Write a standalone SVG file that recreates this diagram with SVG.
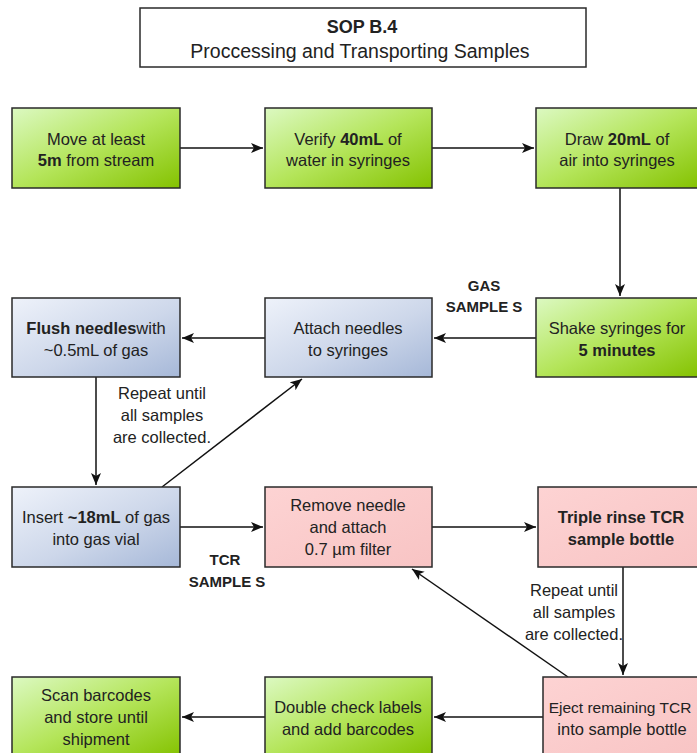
<svg xmlns="http://www.w3.org/2000/svg" width="697" height="753" viewBox="0 0 697 753">
<defs>
<linearGradient id="gGreen" x1="0" y1="0" x2="1" y2="1">
<stop offset="0" stop-color="#dcf9c2"/>
<stop offset="0.5" stop-color="#b4e55a"/>
<stop offset="1" stop-color="#84c200"/>
</linearGradient>
<linearGradient id="gBlue" x1="0" y1="0" x2="1" y2="1">
<stop offset="0" stop-color="#eef2fa"/>
<stop offset="0.55" stop-color="#cdd7ea"/>
<stop offset="1" stop-color="#a6b8d8"/>
</linearGradient>
<linearGradient id="gPink" x1="0" y1="0" x2="1" y2="1">
<stop offset="0" stop-color="#fdd3d3"/>
<stop offset="1" stop-color="#f8c4c4"/>
</linearGradient>
<marker id="arr" markerUnits="userSpaceOnUse" markerWidth="14" markerHeight="12" refX="12" refY="5" orient="auto">
<path d="M0,0 L12,5 L0,10 L3,5 Z" fill="#111"/>
</marker>
</defs>
<style>
text{font-family:"Liberation Sans",Arial,sans-serif;fill:#222;}
.t{font-size:16.5px;text-anchor:middle;}
.b{font-weight:bold;}
.lbl{font-size:15px;font-weight:bold;text-anchor:middle;fill:#222;}
.box{stroke:#2a2a2a;stroke-width:1.5;}
.green{fill:url(#gGreen);}
.blue{fill:url(#gBlue);}
.pink{fill:url(#gPink);}
.edge{stroke:#111;stroke-width:1.5;fill:none;marker-end:url(#arr);}
</style>
<rect width="697" height="753" fill="#ffffff"/>

<g id="title">
<rect x="140" y="8" width="446" height="59" fill="#ffffff" stroke="#2a2a2a" stroke-width="1.5"/>
<text x="362" y="33" font-size="18" font-weight="bold" text-anchor="middle">SOP B.4</text>
<text x="360" y="58" font-size="19.5" text-anchor="middle">Proccessing and Transporting Samples</text>
</g>

<g id="connectors">
<line class="edge" x1="180" y1="148" x2="263" y2="148"/>
<line class="edge" x1="432" y1="148" x2="534" y2="148"/>
<line class="edge" x1="620" y1="188" x2="620" y2="296"/>
<line class="edge" x1="536" y1="338" x2="434" y2="338"/>
<line class="edge" x1="265" y1="338" x2="182" y2="338"/>
<line class="edge" x1="96" y1="377" x2="96" y2="485"/>
<line class="edge" x1="162" y1="487" x2="302" y2="379"/>
<line class="edge" x1="180" y1="527" x2="263" y2="527"/>
<line class="edge" x1="432" y1="527" x2="536" y2="527"/>
<line class="edge" x1="623" y1="567" x2="623" y2="675"/>
<line class="edge" x1="568" y1="677" x2="412" y2="569"/>
<line class="edge" x1="543" y1="717" x2="434" y2="717"/>
<line class="edge" x1="265" y1="717" x2="182" y2="717"/>
</g>

<g id="labels">
<text class="lbl" x="484" y="291">GAS</text>
<text class="lbl" x="484" y="312">SAMPLE S</text>
<text class="lbl" x="225" y="565">TCR</text>
<text class="lbl" x="227" y="587">SAMPLE S</text>
<text class="t" x="162" y="399">Repeat until</text>
<text class="t" x="162" y="421">all samples</text>
<text class="t" x="162" y="443">are collected.</text>
<text class="t" x="574" y="596">Repeat until</text>
<text class="t" x="574" y="618">all samples</text>
<text class="t" x="574" y="640">are collected.</text>
</g>

<g id="n-move">
<rect class="box green" x="12" y="108" width="168" height="80"/>
<text class="t" x="96" y="145">Move at least</text>
<text class="t" x="96" y="166"><tspan class="b">5m</tspan> from stream</text>
</g>
<g id="n-verify">
<rect class="box green" x="265" y="108" width="167" height="80"/>
<text class="t" x="348" y="145">Verify <tspan class="b">40mL</tspan> of</text>
<text class="t" x="348" y="166">water in syringes</text>
</g>
<g id="n-draw">
<rect class="box green" x="536" y="108" width="164" height="80"/>
<text class="t" x="617" y="145">Draw <tspan class="b">20mL</tspan> of</text>
<text class="t" x="617" y="166">air into syringes</text>
</g>

<g id="n-shake">
<rect class="box green" x="536" y="298" width="164" height="79"/>
<text class="t" x="617" y="334">Shake syringes for</text>
<text class="t b" x="617" y="356">5 minutes</text>
</g>
<g id="n-attach">
<rect class="box blue" x="265" y="298" width="167" height="79"/>
<text class="t" x="348" y="334">Attach needles</text>
<text class="t" x="348" y="356">to syringes</text>
</g>
<g id="n-flush">
<rect class="box blue" x="12" y="298" width="168" height="79"/>
<text class="t" x="96" y="334"><tspan class="b">Flush needles</tspan>with</text>
<text class="t" x="96" y="356">~0.5mL of gas</text>
</g>

<g id="n-insert">
<rect class="box blue" x="12" y="487" width="168" height="80"/>
<text class="t" x="96" y="523">Insert <tspan class="b">~18mL</tspan> of gas</text>
<text class="t" x="96" y="545">into gas vial</text>
</g>
<g id="n-remove">
<rect class="box pink" x="265" y="487" width="167" height="80"/>
<text class="t" x="348" y="511">Remove needle</text>
<text class="t" x="348" y="533">and attach</text>
<text class="t" x="348" y="555">0.7 µm filter</text>
</g>
<g id="n-triple">
<rect class="box pink" x="538" y="487" width="166" height="80"/>
<text class="t b" x="621" y="523">Triple rinse TCR</text>
<text class="t b" x="621" y="545">sample bottle</text>
</g>

<g id="n-eject">
<rect class="box pink" x="543" y="677" width="162" height="80"/>
<text class="t" x="620" y="713" style="font-size:15.5px">Eject remaining TCR</text>
<text class="t" x="622" y="735">into sample bottle</text>
</g>
<g id="n-double">
<rect class="box green" x="265" y="677" width="167" height="80"/>
<text class="t" x="348" y="713">Double check labels</text>
<text class="t" x="348" y="735">and add barcodes</text>
</g>
<g id="n-scan">
<rect class="box green" x="12" y="677" width="168" height="80"/>
<text class="t" x="96" y="701">Scan barcodes</text>
<text class="t" x="96" y="723">and store until</text>
<text class="t" x="96" y="745">shipment</text>
</g>
</svg>
